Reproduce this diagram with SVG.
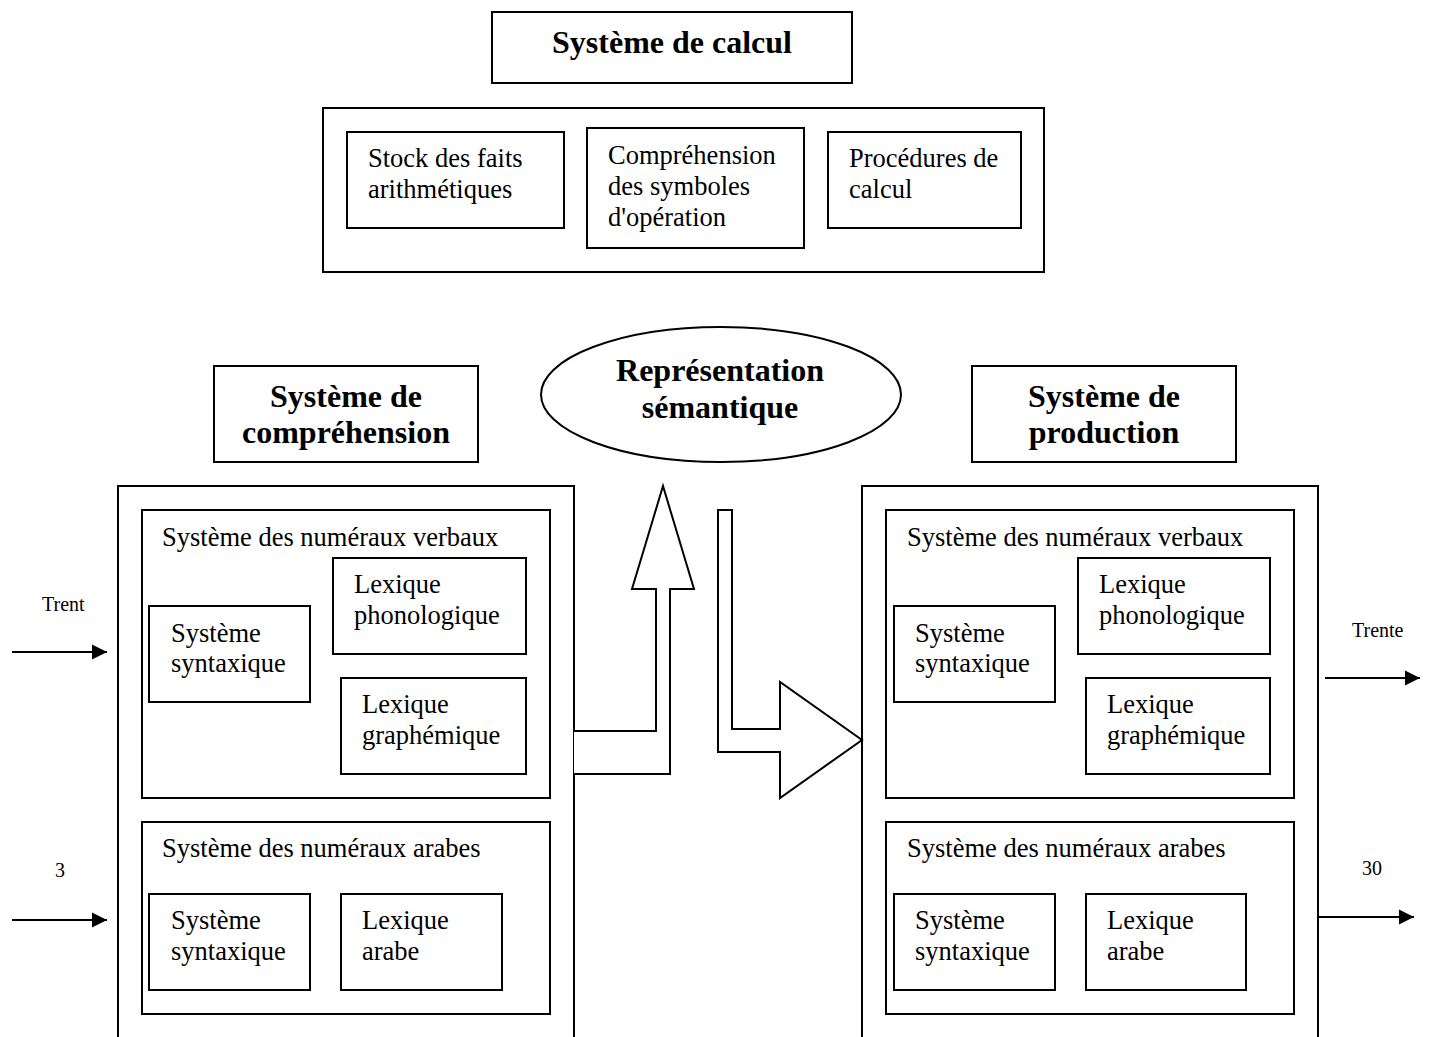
<svg xmlns="http://www.w3.org/2000/svg" width="1431" height="1037" viewBox="0 0 1431 1037">
<defs>
<style>
.b{fill:#fff;stroke:#000;stroke-width:2}
.t{font-family:"Liberation Serif","Times New Roman",serif;font-size:26.5px;fill:#000}
.h{font-family:"Liberation Serif","Times New Roman",serif;font-size:32px;font-weight:bold;fill:#000}
.s{font-family:"Liberation Serif","Times New Roman",serif;font-size:20px;fill:#000}
.c{stroke:#000;stroke-width:2;fill:none}
.big{fill:#fff;stroke:#000;stroke-width:2}
</style>
<marker id="ah" markerUnits="userSpaceOnUse" markerWidth="16" markerHeight="16" viewBox="0 0 16 16" refX="15" refY="8" orient="auto">
<path d="M0,0.5 L15,8 L0,15.5 Z" fill="#000"/>
</marker>
</defs>
<rect width="1431" height="1037" fill="#fff"/>

<g id="systeme-calcul-titre">
<rect class="b" x="492" y="12" width="360" height="71"/>
<text class="h" x="672" y="53" text-anchor="middle">Système de calcul</text>
</g>

<g id="systeme-calcul">
<rect class="b" x="323" y="108" width="721" height="164"/>
<g id="stock">
<rect class="b" x="347" y="132" width="217" height="96"/>
<text class="t" x="368" y="167">Stock des faits</text>
<text class="t" x="368" y="198">arithmétiques</text>
</g>
<g id="comprehension-symboles">
<rect class="b" x="587" y="128" width="217" height="120"/>
<text class="t" x="608" y="164">Compréhension</text>
<text class="t" x="608" y="195">des symboles</text>
<text class="t" x="608" y="226">d'opération</text>
</g>
<g id="procedures">
<rect class="b" x="828" y="132" width="193" height="96"/>
<text class="t" x="849" y="167">Procédures de</text>
<text class="t" x="849" y="198">calcul</text>
</g>
</g>

<g id="representation-semantique">
<ellipse class="b" cx="721" cy="394.5" rx="180" ry="67.5"/>
<text class="h" x="720" y="381" text-anchor="middle">Représentation</text>
<text class="h" x="720" y="418" text-anchor="middle">sémantique</text>
</g>

<g id="titre-comprehension">
<rect class="b" x="214" y="366" width="264" height="96"/>
<text class="h" x="346" y="407" text-anchor="middle">Système de</text>
<text class="h" x="346" y="443" text-anchor="middle">compréhension</text>
</g>

<g id="titre-production">
<rect class="b" x="972" y="366" width="264" height="96"/>
<text class="h" x="1104" y="407" text-anchor="middle">Système de</text>
<text class="h" x="1104" y="443" text-anchor="middle">production</text>
</g>

<g id="systeme-comprehension">
<rect class="big" x="118" y="486" width="456" height="600"/>
<g id="comp-verbaux">
<rect class="b" x="142" y="510" width="408" height="288"/>
<text class="t" x="162" y="546">Système des numéraux verbaux</text>
<rect class="b" x="149" y="606" width="161" height="96"/>
<text class="t" x="171" y="642">Système</text>
<text class="t" x="171" y="672">syntaxique</text>
<rect class="b" x="333" y="558" width="193" height="96"/>
<text class="t" x="354" y="593">Lexique</text>
<text class="t" x="354" y="624">phonologique</text>
<rect class="b" x="341" y="678" width="185" height="96"/>
<text class="t" x="362" y="713">Lexique</text>
<text class="t" x="362" y="744">graphémique</text>
</g>
<g id="comp-arabes">
<rect class="b" x="142" y="822" width="408" height="192"/>
<text class="t" x="162" y="857">Système des numéraux arabes</text>
<rect class="b" x="149" y="894" width="161" height="96"/>
<text class="t" x="171" y="929">Système</text>
<text class="t" x="171" y="960">syntaxique</text>
<rect class="b" x="341" y="894" width="161" height="96"/>
<text class="t" x="362" y="929">Lexique</text>
<text class="t" x="362" y="960">arabe</text>
</g>
</g>

<g id="systeme-production">
<rect class="big" x="862" y="486" width="456" height="600"/>
<g id="prod-verbaux">
<rect class="b" x="886" y="510" width="408" height="288"/>
<text class="t" x="907" y="546">Système des numéraux verbaux</text>
<rect class="b" x="894" y="606" width="161" height="96"/>
<text class="t" x="915" y="642">Système</text>
<text class="t" x="915" y="672">syntaxique</text>
<rect class="b" x="1078" y="558" width="192" height="96"/>
<text class="t" x="1099" y="593">Lexique</text>
<text class="t" x="1099" y="624">phonologique</text>
<rect class="b" x="1086" y="678" width="184" height="96"/>
<text class="t" x="1107" y="713">Lexique</text>
<text class="t" x="1107" y="744">graphémique</text>
</g>
<g id="prod-arabes">
<rect class="b" x="886" y="822" width="408" height="192"/>
<text class="t" x="907" y="857">Système des numéraux arabes</text>
<rect class="b" x="894" y="894" width="161" height="96"/>
<text class="t" x="915" y="929">Système</text>
<text class="t" x="915" y="960">syntaxique</text>
<rect class="b" x="1086" y="894" width="160" height="96"/>
<text class="t" x="1107" y="929">Lexique</text>
<text class="t" x="1107" y="960">arabe</text>
</g>
</g>

<g id="connecteurs">
<path class="b" d="M574,731 L656,731 L656,589 L632,589 L663,486 L694,589 L670,589 L670,774 L574,774"/>
<path class="b" d="M718,510 L732,510 L732,729 L780,729 L780,682 L862,740 L780,798 L780,752 L718,752 Z"/>
<line class="c" x1="12" y1="652" x2="107" y2="652" marker-end="url(#ah)"/>
<line class="c" x1="12" y1="920" x2="107" y2="920" marker-end="url(#ah)"/>
<line class="c" x1="1325" y1="678" x2="1420" y2="678" marker-end="url(#ah)"/>
<line class="c" x1="1318" y1="917" x2="1414" y2="917" marker-end="url(#ah)"/>
<text class="s" x="42" y="611">Trent</text>
<text class="s" x="60" y="877" text-anchor="middle">3</text>
<text class="s" x="1352" y="637">Trente</text>
<text class="s" x="1362" y="875">30</text>
</g>
</svg>
